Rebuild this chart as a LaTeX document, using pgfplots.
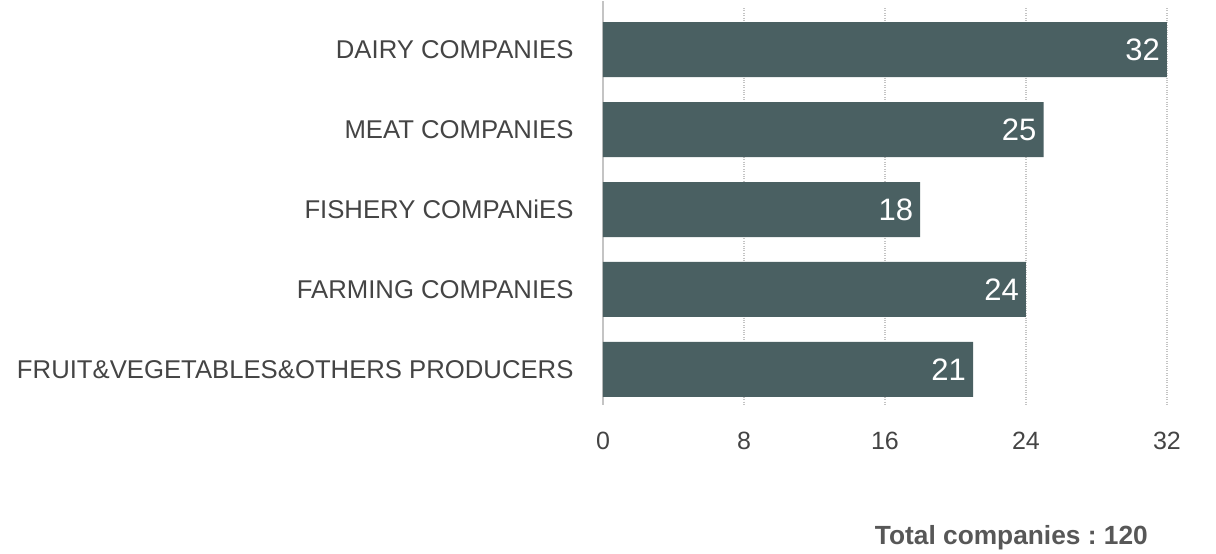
\documentclass[border=0pt]{standalone}
\usepackage{fontspec}
\setmainfont{Liberation Sans}
\usepackage{pgfplots}
\pgfplotsset{compat=1.18}
\definecolor{barcol}{HTML}{4A6062}
\definecolor{txtcol}{HTML}{444444}
\definecolor{gridcol}{HTML}{C4C4C4}

\begin{document}
\begin{tikzpicture}[x=1pt,y=1pt]
% page size = reference size in px
\path[use as bounding box] (-603,-149) rectangle (613,405);
\begin{axis}[
  at={(0,0)}, anchor=south west,
  scale only axis,
  width=564pt, height=397pt,
  xbar, bar width=55pt,
  xmin=0, xmax=32,
  ymin=-0.519, ymax=4.444,
  y dir=reverse,
  xtick={0,8,16,24,32},
  ytick={0,1,2,3,4},
  yticklabels={DAIRY COMPANIES,MEAT COMPANIES,FISHERY COMPANiES,FARMING COMPANIES,FRUIT\&VEGETABLES\&OTHERS PRODUCERS},
  axis x line*=bottom,
  axis y line*=left,
  x axis line style={draw=none},
  y axis line style={draw=gridcol, line width=1.5pt, shorten <=-7pt},
  major tick length=0pt,
  xmajorgrids,
  grid style={gridcol, dotted, line width=1.2pt},
  /pgf/number format/assume math mode=true,
  xticklabel style={font=\fontsize{25}{30}\selectfont, text=txtcol, yshift=-24pt},
  yticklabel style={font=\fontsize{25.7}{30}\selectfont, text=txtcol, xshift=-26pt},
  nodes near coords,
  every node near coord/.append style={anchor=east, inner sep=0pt, xshift=-7pt,
    text=white, font=\fontsize{31}{36}\selectfont},
  clip=false,
]
\addplot[fill=barcol, draw=none] coordinates {(32,0) (25,1) (18,2) (24,3) (21,4)};
\end{axis}
\node[anchor=east, inner sep=0pt, text=txtcol!90!white, font=\bfseries\fontsize{26.3}{30}\selectfont] at (545,-133) {\frenchspacing Total companies : 120};
\end{tikzpicture}
\end{document}
